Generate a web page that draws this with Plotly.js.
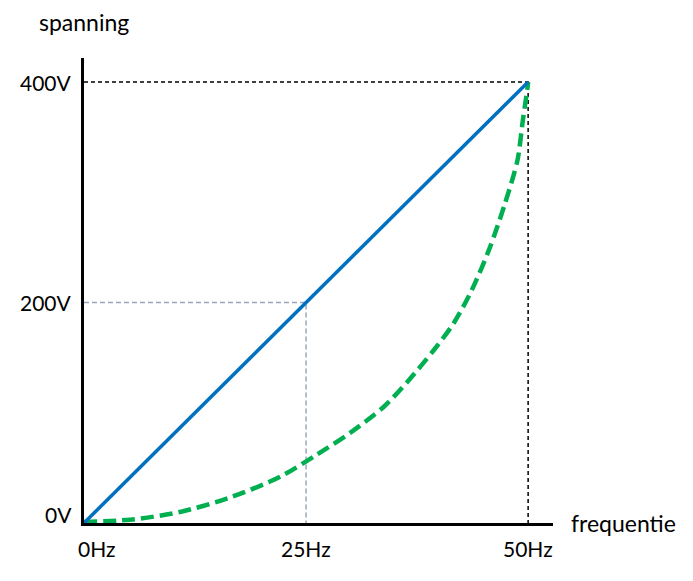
<!DOCTYPE html>
<html>
<head>
<meta charset="utf-8">
<script src="https://cdn.plot.ly/plotly-3.0.1.min.js"></script>
<style>
  html, body { margin: 0; padding: 0; background: #fff; }
  #chart { width: 693px; height: 581px; }
</style>
</head>
<body>
<div id="chart"></div>
<script>
// frequency (Hz) and voltage (V) values
const linearFreq = [0, 25, 50];
const linearVolt = [0, 200, 400];

const squareFreq = [0, 5.2, 10.8, 16.4, 22.1, 26.2, 30.0, 33.7, 36.4, 39.3, 41.6, 43.7, 45.7, 47.4, 48.8, 49.4, 49.9, 50];
const squareVolt = [1, 3, 10, 23, 42, 62, 82, 105, 128, 156, 181, 212, 250, 290, 329, 365, 393, 400];

// dashed helper lines
const maxGuideFreq = [0, 50, 50];
const maxGuideVolt = [400, 400, 0];
const midGuideFreq = [0, 25, 25];
const midGuideVolt = [200, 200, 0];

// tick labels
const xTickVals = [0, 25, 50];
const xTickText = ['0Hz', '25Hz', '50Hz'];
const yTickVals = [0, 200, 400];
const yTickText = ['0V', '200V', '400V'];

const font = 'Lato, "Open Sans", sans-serif';

let traces = [
    {
        x: maxGuideFreq, y: maxGuideVolt,
        mode: 'lines', type: 'scatter',
        line: {color: '#000000', width: 1.5, dash: '4px,3px'},
        cliponaxis: false
    },
    {
        x: midGuideFreq, y: midGuideVolt,
        mode: 'lines', type: 'scatter',
        line: {color: '#9AA6BC', width: 1.5, dash: '5px,3px'},
        cliponaxis: false
    },
    {
        x: squareFreq, y: squareVolt,
        mode: 'lines', type: 'scatter',
        line: {color: '#00B050', width: 4.5, dash: '13px,6px', shape: 'spline', smoothing: 0.8},
        cliponaxis: false
    },
    {
        x: linearFreq, y: linearVolt,
        mode: 'lines', type: 'scatter',
        line: {color: '#0070C0', width: 3.5},
        cliponaxis: false
    }
];

let annotations = [];
// x labels below the axis
for (let i = 0; i < xTickVals.length; i++) {
    annotations.push({
        x: xTickVals[i], y: 0, xref: 'x', yref: 'y',
        text: xTickText[i], showarrow: false,
        xanchor: i === 0 ? 'left' : 'center', yanchor: 'top',
        xshift: i === 0 ? -8 : 0, yshift: -11,
        font: {family: font, size: 21, color: '#000'}
    });
}
// y labels left of the axis
for (let i = 0; i < yTickVals.length; i++) {
    annotations.push({
        x: 0, y: yTickVals[i], xref: 'x', yref: 'y',
        text: yTickText[i], showarrow: false,
        xanchor: 'right', yanchor: 'middle',
        xshift: -10, yshift: i === 0 ? 9 : 0,
        font: {family: font, size: 21, color: '#000'}
    });
}
// axis names
annotations.push({
    x: 37, y: 22, xref: 'paper', yref: 'paper',
    text: 'spanning', showarrow: false
});
annotations.push({
    x: 569, y: 523, xref: 'paper', yref: 'paper',
    text: 'frequentie', showarrow: false
});
// convert the two axis names from pixel spots to paper coords
const W = 693, H = 581, L = 84, R = 140, T = 58, B = 58;
annotations.slice(-2).forEach(a => {
    let px = a.x, py = a.y;
    a.x = (px - L) / (W - L - R);
    a.y = 1 - (py - T) / (H - T - B);
    a.xanchor = 'left';
    a.yanchor = 'middle';
    a.font = {family: font, size: 23, color: '#000'};
});

let layout = {
    width: W,
    height: H,
    margin: {l: L, r: R, t: T, b: B, pad: 0},
    paper_bgcolor: '#ffffff',
    plot_bgcolor: '#ffffff',
    showlegend: false,
    hovermode: false,
    xaxis: {
        range: [0, 52.8],
        showgrid: false, zeroline: false,
        showline: true, linecolor: '#000', linewidth: 3,
        showticklabels: false, ticks: '',
        fixedrange: true
    },
    yaxis: {
        range: [0, 421.8],
        showgrid: false, zeroline: false,
        showline: true, linecolor: '#000', linewidth: 3,
        showticklabels: false, ticks: '',
        fixedrange: true
    },
    annotations: annotations
};

Plotly.newPlot('chart', traces, layout, {displayModeBar: false, staticPlot: true});
</script>
</body>
</html>
